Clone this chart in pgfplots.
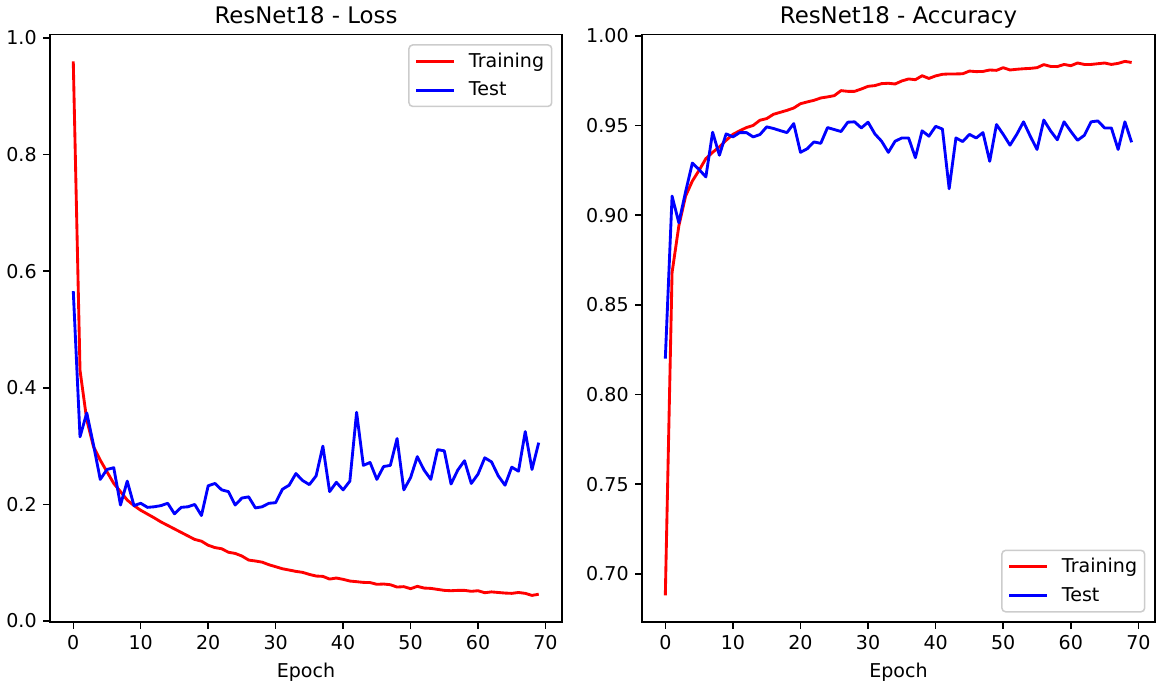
\documentclass[border=0pt]{standalone}
\usepackage{fontspec}
\setmainfont{DejaVu Sans}
\usepackage{pgfplots}
\usepackage{pgfplotstable}
\pgfplotsset{compat=1.18}

\pgfplotstableread{
ep trl tel tra tea
0 0.960 0.566 0.688 0.820
1 0.430 0.316 0.868 0.9106
2 0.345 0.357 0.894 0.8957
3 0.299 0.302 0.9106 0.913
4 0.276 0.243 0.919 0.929
5 0.256 0.260 0.925 0.9254
6 0.236 0.263 0.9315 0.9213
7 0.222 0.199 0.935 0.9462
8 0.2075 0.240 0.938 0.9334
9 0.198 0.198 0.9417 0.9453
10 0.190 0.202 0.945 0.9436
11 0.1835 0.195 0.947 0.946
12 0.177 0.196 0.9488 0.946
13 0.170 0.198 0.950 0.9436
14 0.164 0.202 0.9529 0.9449
15 0.158 0.184 0.9538 0.9492
16 0.152 0.195 0.9562 0.9483
17 0.146 0.196 0.9573 0.9471
18 0.140 0.200 0.9584 0.946
19 0.137 0.181 0.9597 0.951
20 0.130 0.232 0.9621 0.935
21 0.126 0.236 0.9631 0.937
22 0.124 0.225 0.964 0.9408
23 0.118 0.222 0.9653 0.940
24 0.116 0.199 0.9659 0.9488
25 0.1115 0.211 0.9666 0.9477
26 0.1046 0.213 0.9694 0.9466
27 0.103 0.194 0.969 0.9518
28 0.101 0.196 0.969 0.952
29 0.0966 0.202 0.9703 0.9486
30 0.0932 0.203 0.9718 0.9518
31 0.0897 0.226 0.9722 0.9453
32 0.0875 0.233 0.9733 0.9412
33 0.0852 0.253 0.9735 0.935
34 0.0835 0.241 0.9731 0.9412
35 0.080 0.234 0.9748 0.943
36 0.0772 0.249 0.9759 0.943
37 0.0766 0.300 0.9755 0.932
38 0.072 0.222 0.9777 0.947
39 0.0738 0.238 0.9762 0.944
40 0.0715 0.225 0.9776 0.9495
41 0.0686 0.240 0.9785 0.948
42 0.0675 0.358 0.9787 0.9147
43 0.0663 0.267 0.9787 0.943
44 0.066 0.272 0.9788 0.941
45 0.063 0.243 0.9803 0.945
46 0.0635 0.265 0.980 0.943
47 0.0623 0.267 0.9801 0.946
48 0.0583 0.313 0.9809 0.930
49 0.059 0.225 0.9807 0.9505
50 0.0555 0.246 0.9822 0.945
51 0.0595 0.282 0.9809 0.939
52 0.0566 0.259 0.9813 0.945
53 0.056 0.243 0.9816 0.952
54 0.0543 0.294 0.9818 0.944
55 0.0526 0.292 0.9822 0.9366
56 0.052 0.235 0.9839 0.953
57 0.0526 0.259 0.9829 0.947
58 0.0526 0.275 0.9828 0.942
59 0.051 0.236 0.9840 0.952
60 0.052 0.252 0.9833 0.9467
61 0.0486 0.280 0.9848 0.9417
62 0.050 0.273 0.984 0.9445
63 0.049 0.249 0.984 0.952
64 0.048 0.233 0.9844 0.9525
65 0.0475 0.264 0.9848 0.9486
66 0.049 0.257 0.984 0.9486
67 0.0475 0.325 0.9846 0.9366
68 0.044 0.260 0.9857 0.952
69 0.046 0.306 0.9851 0.9406
}\data

\definecolor{legframe}{RGB}{204,204,204}

\pgfplotsset{
  mpl/.style={
    scale only axis,
    width=268.8bp, height=308.4bp,
    xmin=-3.45, xmax=72.45,
    xtick={0,10,20,30,40,50,60,70},
    axis x line*=bottom, axis y line*=left,
    hide obscured x ticks=false,
    tick align=outside,
    major tick length=3.5bp,
    every tick/.style={black, line width=0.8bp},
    axis line style={black, line width=0.8bp},
    separate axis lines,
    every outer x axis line/.append style={-},
    every outer y axis line/.append style={-},
    ticklabel style={font=\fontsize{10bp}{12bp}\selectfont},
    /pgf/number format/assume math mode=true,
    title style={font=\fontsize{12bp}{14bp}\selectfont, at={(0.5,1)}, anchor=base, inner sep=0pt},
    xlabel style={font=\fontsize{10bp}{12bp}\selectfont},
    xlabel={Epoch},
    legend cell align=left,
    legend image code/.code={\draw[#1] (0bp,0bp) -- (20bp,0bp);},
    legend style={
      font=\fontsize{10bp}{12bp}\selectfont,
      draw=legframe, line width=0.8bp, rounded corners=2bp,
      fill=white, fill opacity=0.8, text opacity=1,
      inner xsep=3bp, inner ysep=3bp,
      row sep=4.4bp,
      nodes={inner sep=1bp},
      /tikz/every odd column/.append style={column sep=6bp},
    },
  },
  trline/.style={color=red, line width=1.5bp, line join=round},
  teline/.style={color=blue, line width=1.5bp, line join=round},
}

\begin{document}
\begin{tikzpicture}
\useasboundingbox (0,0) rectangle (609bp,360.7bp);
\begin{axis}[mpl,
  at={(26.25bp,34.1bp)}, anchor=south west,
  ymin=-0.0018, ymax=1.0058,
  ytick={0,0.2,0.4,0.6,0.8,1.0},
  yticklabel style={/pgf/number format/.cd, fixed, fixed zerofill, precision=1},
  title={ResNet18 - Loss},
  legend style={at={(1,1)}, anchor=north east, xshift=-5bp, yshift=-5bp},
  axis line style={draw=none},
  extra description/.code={\draw[black, line width=0.8bp] (0,0) rectangle (1,1);},
]
\addplot[trline] table[x=ep, y=trl] {\data};
\addlegendentry{Training}
\addplot[teline] table[x=ep, y=tel] {\data};
\addlegendentry{Test}
\end{axis}
\begin{axis}[mpl,
  at={(337.05bp,34.1bp)}, anchor=south west,
  width=269.3bp,
  ymin=0.6731, ymax=1.0006,
  ytick={0.70,0.75,0.80,0.85,0.90,0.95,1.00},
  yticklabel style={/pgf/number format/.cd, fixed, fixed zerofill, precision=2},
  title={ResNet18 - Accuracy},
  legend style={at={(1,0)}, anchor=south east, xshift=-5bp, yshift=5bp},
  axis line style={draw=none},
  extra description/.code={\draw[black, line width=0.8bp] (0,0) rectangle (1,1);},
]
\addplot[trline] table[x=ep, y=tra] {\data};
\addlegendentry{Training}
\addplot[teline] table[x=ep, y=tea] {\data};
\addlegendentry{Test}
\end{axis}
\end{tikzpicture}
\end{document}
